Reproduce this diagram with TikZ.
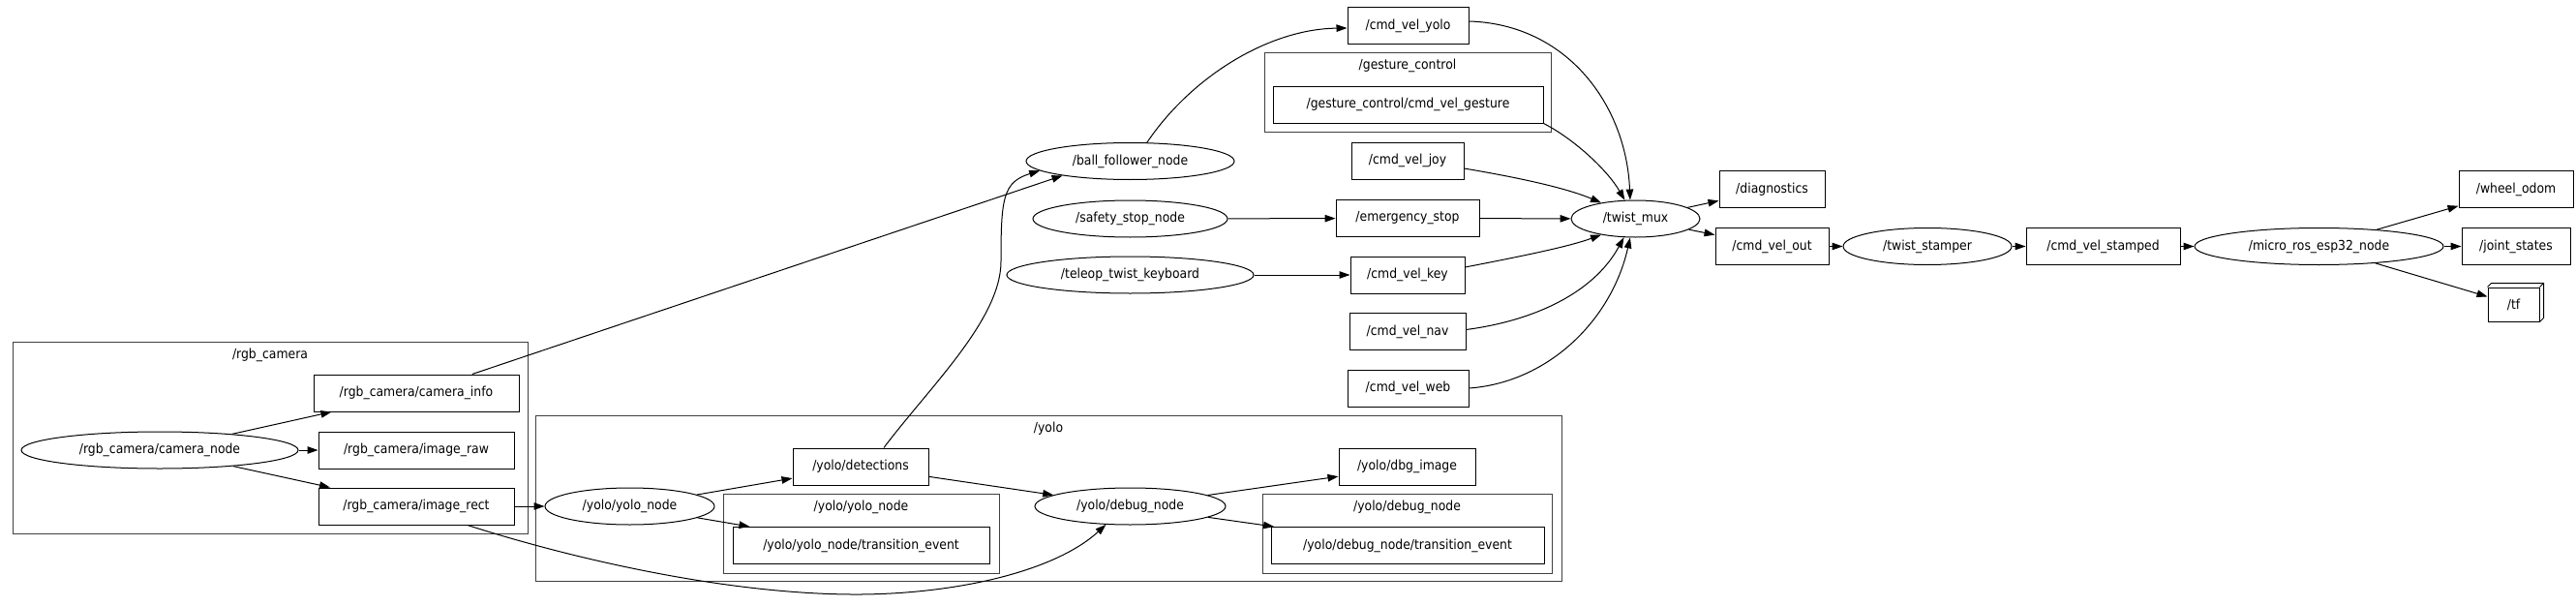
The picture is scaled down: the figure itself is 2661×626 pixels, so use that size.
\documentclass[tikz,border=0pt]{standalone}
\usepackage{fontspec}
\setmainfont{DejaVu Sans}[FakeStretch=0.9]
\usetikzlibrary{arrows.meta,shapes.geometric}
\begin{document}
\begin{tikzpicture}[x=1pt,y=-1pt,
  every node/.style={font=\fontsize{13.8}{16}\selectfont},
  topic/.style={draw, rectangle, minimum height=38pt, inner sep=0pt, line width=1pt},
  rnode/.style={draw, ellipse, minimum height=38pt, inner sep=0pt, line width=1pt},
  clusterbox/.style={draw=black!75, rectangle, inner sep=0pt, line width=1pt},
  clabel/.style={inner sep=0pt},
  conn/.style={line width=1pt, -{Triangle[length=11pt,width=7.5pt]}},
]
\useasboundingbox (0,0) rectangle (2661,626);

% clusters
\node[clusterbox, minimum width=532pt, minimum height=198pt] (crgb) at (279,452) {};
\node[clabel] (crgblbl) at (279,367) {/rgb\_camera};
\node[clusterbox, minimum width=1060pt, minimum height=171pt] (cyolo) at (1083,514.5) {};
\node[clabel] (cyololbl) at (1083,443) {/yolo};
\node[clusterbox, minimum width=285pt, minimum height=82pt] (cyn) at (889.5,551) {};
\node[clabel] (cynlbl) at (889.5,524) {/yolo/yolo\_node};
\node[clusterbox, minimum width=299pt, minimum height=82pt] (cdn) at (1453.5,551) {};
\node[clabel] (cdnlbl) at (1453.5,524) {/yolo/debug\_node};
\node[clusterbox, minimum width=296pt, minimum height=81pt] (cgest) at (1454,95.5) {};
\node[clabel] (cgestlbl) at (1454,68) {/gesture\_control};

% topics
\node[topic, minimum width=212pt] (caminfo) at (430,406) {/rgb\_camera/camera\_info};
\node[topic, minimum width=202pt] (imgraw) at (430,465) {/rgb\_camera/image\_raw};
\node[topic, minimum width=202pt] (imgrect) at (430,523) {/rgb\_camera/image\_rect};
\node[topic, minimum width=140pt] (det) at (889,482) {/yolo/detections};
\node[topic, minimum width=265pt] (ytrans) at (889.5,563.5) {/yolo/yolo\_node/transition\_event};
\node[topic, minimum width=141pt] (dbgimg) at (1453.5,482) {/yolo/dbg\_image};
\node[topic, minimum width=282pt] (dtrans) at (1454,563.5) {/yolo/debug\_node/transition\_event};
\node[topic, minimum width=125pt] (ycmd) at (1454.5,26.5) {/cmd\_vel\_yolo};
\node[topic, minimum width=279pt] (gest) at (1454.5,108) {/gesture\_control/cmd\_vel\_gesture};
\node[topic, minimum width=116pt] (joy) at (1454,166) {/cmd\_vel\_joy};
\node[topic, minimum width=148pt] (estop) at (1454,225.5) {/emergency\_stop};
\node[topic, minimum width=118pt] (key) at (1454,284) {/cmd\_vel\_key};
\node[topic, minimum width=120pt] (nav) at (1454,342.5) {/cmd\_vel\_nav};
\node[topic, minimum width=125pt] (web) at (1454.5,401) {/cmd\_vel\_web};
\node[topic, minimum width=109pt] (diag) at (1830.5,195.5) {/diagnostics};
\node[topic, minimum width=117pt] (cvout) at (1830.5,254.5) {/cmd\_vel\_out};
\node[topic, minimum width=159pt] (cvstamp) at (2172.5,254.5) {/cmd\_vel\_stamped};
\node[topic, minimum width=118pt] (wodom) at (2599,195.5) {/wheel\_odom};
\node[topic, minimum width=112pt] (jstates) at (2599,254.5) {/joint\_states};
\node[topic, minimum width=53pt, minimum height=35pt] (tf) at (2596.5,314.5) {/tf};
\draw[line width=1pt] (tf.north west) -- ++(4pt,4pt) -- ([shift={(4pt,4pt)}]tf.north east)
  -- ([shift={(4pt,4pt)}]tf.south east) -- (tf.south east);
\draw[line width=1pt] (tf.north east) -- ++(4pt,4pt);

% ROS nodes
\node[rnode, minimum width=286pt] (camnode) at (165,465) {/rgb\_camera/camera\_node};
\node[rnode, minimum width=175pt] (yolonode) at (650.5,523) {/yolo/yolo\_node};
\node[rnode, minimum width=197pt] (debug) at (1167.5,523) {/yolo/debug\_node};
\node[rnode, minimum width=215pt] (ball) at (1167.5,166.5) {/ball\_follower\_node};
\node[rnode, minimum width=201pt] (safety) at (1167.5,226) {/safety\_stop\_node};
\node[rnode, minimum width=255pt] (teleop) at (1167.5,284) {/teleop\_twist\_keyboard};
\node[rnode, minimum width=133pt] (tm) at (1689.5,226) {/twist\_mux};
\node[rnode, minimum width=174pt] (tstamp) at (1991,254.5) {/twist\_stamper};
\node[rnode, minimum width=257pt] (micro) at (2395.5,254.5) {/micro\_ros\_esp32\_node};

% connectors
\draw[conn] (camnode) -- (caminfo);
\draw[conn] (camnode) -- (imgraw);
\draw[conn] (camnode) -- (imgrect);
\draw[conn] (caminfo) -- (ball.-168);
\draw[conn] (imgrect) -- (yolonode);
\draw[conn] ([xshift=53pt]imgrect.south) .. controls (600,580) and (760,615) .. (890,614)
  .. controls (990,613) and (1090,590) .. (debug.-143);
\draw[conn] (yolonode) -- (det);
\draw[conn] (yolonode) -- (ytrans);
\draw[conn] (det) -- (debug);
\draw[conn] ([xshift=24pt]det.north) .. controls (960,400) and (1034,330) .. (1034,270)
  .. controls (1034,205) and (1036,188) .. (ball.-174);
\draw[conn] (debug) -- (dbgimg);
\draw[conn] (debug) -- (dtrans);
\draw[conn] (ball.48) .. controls (1230,80) and (1310,30) .. ([yshift=-2.5pt]ycmd.west);
\draw[conn] (safety) -- (estop);
\draw[conn] (teleop) -- (key);
\draw[conn] ([yshift=4.5pt]ycmd.east) .. controls (1620,25) and (1680,110) .. (tm.106);
\draw[conn] (gest.south east) .. controls (1625,143) and (1660,175) .. (tm.120);
\draw[conn] ([yshift=-8pt]joy.east) .. controls (1560,182) and (1615,193) .. (tm.155);
\draw[conn] (estop) -- (tm);
\draw[conn] ([yshift=8pt]key.east) .. controls (1570,265) and (1620,255) .. (tm.-155);
\draw[conn] ([yshift=2pt]nav.east) .. controls (1580,332) and (1645,305) .. (tm.-122);
\draw[conn] (web.east) .. controls (1600,395) and (1665,330) .. (tm.-106);
\draw[conn] (tm) -- (diag);
\draw[conn] (tm) -- (cvout);
\draw[conn] (cvout) -- (tstamp);
\draw[conn] (tstamp) -- (cvstamp);
\draw[conn] (cvstamp) -- (micro);
\draw[conn] (micro) -- (wodom);
\draw[conn] (micro) -- (jstates);
\draw[conn] (micro) -- (tf);
\end{tikzpicture}
\end{document}
